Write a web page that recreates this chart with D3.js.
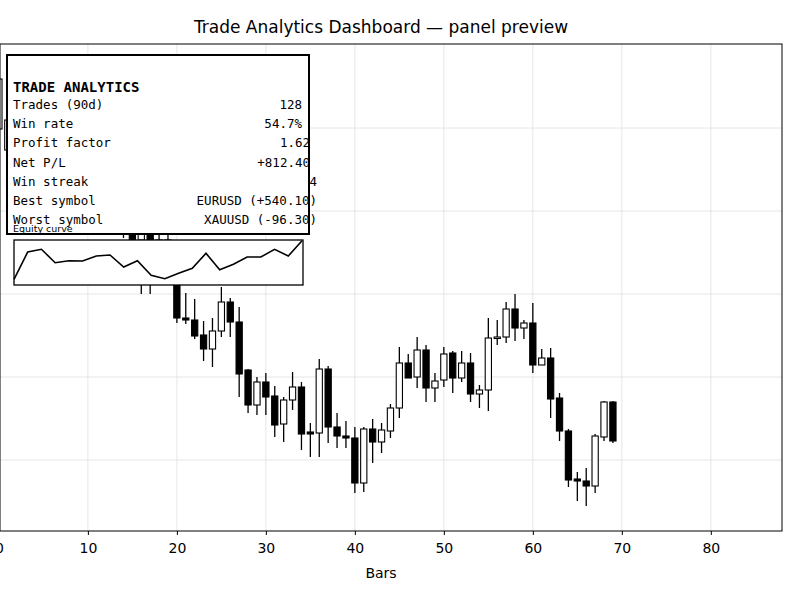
<!DOCTYPE html>
<html><head><meta charset="utf-8">
<script src="https://cdn.jsdelivr.net/npm/d3@7"></script>
<style>body{margin:0;background:#fff}svg{display:block}</style>
</head><body><svg id="c" width="800" height="600"></svg>
<script>
const bars = d3.range(0, 70);
const opens  = [147.1,145,148,146,149.5,151,147.5,149,145,146.5,142.5,144,139.5,141.5,138.5,140,136,137.5,134.5,136,131.5,128.2,128,126.5,125.1,126.9,129.8,127.8,
  123.0,119.5,121.8,120.4,117.6,120.0,121.3,116.8,116.7,123.1,117.3,116.4,116.2,111.7,117.1,115.8,116.9,119.2,123.7,122.3,125.0,121.2,122.0,124.7,122.2,123.7,120.6,121.0,126.2,126.3,129.1,127.2,127.7,123.5,124.2,120.2,116.9,112.1,111.9,111.4,116.3,119.8];
const closes = [152.1,148,146,149.5,151,147.5,149,145,146.5,142.5,144,139.5,141.5,138.5,140,136,137.5,134.5,136,132.5,128.2,128,126.4,125.1,126.9,129.8,127.8,122.6,
  119.5,121.8,120.3,117.5,120.0,121.3,116.6,116.6,123.1,117.3,116.4,116.2,111.7,117.1,115.8,117.0,119.2,123.7,122.2,125.0,121.2,121.9,124.6,122.2,123.7,120.6,121.0,126.2,126.3,129.1,127.2,127.7,123.5,124.2,120.1,116.9,112.0,111.9,111.4,116.4,119.8,115.9];
const highs  = [153,148.8,149,150.5,152,151.5,150,149.5,147.5,147.2,145,144.5,142.5,142.2,141,140.5,138.5,138.2,136.8,136.5,133,130.7,130.1,127.9,128.2,131.3,130.2,129.3,
  123.1,122.3,122.7,121.4,120.3,122.8,121.8,117.7,124.1,123.4,118.7,117.9,117.3,117.3,118.1,117.7,119.6,125.3,124.6,126.3,125.5,122.7,125.3,124.9,124.9,124.7,121.5,128.2,128.0,129.8,130.6,128.0,129.7,125.1,125.2,120.7,117.1,112.8,113.2,116.6,119.9,119.9];
const lows   = [143.5,144.2,145,145.2,148.5,146.8,146.5,144,143.5,141.5,141,138.5,138.8,137,136.2,135,130.6,130.6,133,131.5,127.7,127.6,126.1,123.9,123.3,126.3,126.3,120.3,
  118.7,118.5,118.5,116.3,115.8,119.0,115.0,114.3,114.3,115.7,115.2,115.2,110.7,110.8,113.7,114.7,116.2,118.2,122.2,121.2,119.8,119.8,121.3,120.7,121.8,119.8,119.2,118.9,125.5,125.7,125.9,126.1,122.7,123.5,118.2,115.9,111.3,109.9,109.4,110.7,115.9,115.7];
const xTicks = [0, 10, 20, 30, 40, 50, 60, 70, 80];
const yTicks = [114.0, 122.3, 130.6, 138.9, 147.2];
const equity = [10.7,38,40.7,27.3,29.3,29,34,35,23,29.3,14.7,11.3,16.7,21.7,36.7,20.3,25.7,33,33,40.7,34,49.3];
const statLabels = ["Trades (90d)","Win rate","Profit factor","Net P/L","Win streak","Best symbol","Worst symbol"];
const statValues = ["128","54.7%","1.62","+812.40","4","EURUSD (+540.10)","XAUUSD (-96.30)"];

const svg = d3.select("#c");
const L=-10, R=782, T=44, B=531;
const x = d3.scaleLinear().domain([-1, 88]).range([L, R]);
const y = d3.scaleLinear().domain([106.9, 155.6]).range([B, T]);

svg.append("text").attr("x",381).attr("y",33).attr("text-anchor","middle")
  .attr("font-family","DejaVu Sans").attr("font-size",17).text("Trade Analytics Dashboard — panel preview");

svg.append("defs").append("clipPath").attr("id","pc").append("rect")
  .attr("x",0).attr("y",T).attr("width",R).attr("height",B-T);
const g = svg.append("g").attr("clip-path","url(#pc)");
g.selectAll(".gx").data(xTicks).join("line").attr("x1",d=>x(d)).attr("x2",d=>x(d))
  .attr("y1",T).attr("y2",B).attr("stroke","#e0e0e0").attr("stroke-width",0.8);
g.selectAll(".gy").data(yTicks).join("line").attr("y1",d=>y(d)).attr("y2",d=>y(d))
  .attr("x1",0).attr("x2",R).attr("stroke","#e0e0e0").attr("stroke-width",0.8);

const cw = x(0.35)-x(0);
const cg = g.selectAll(".cd").data(bars).join("g");
cg.append("line").attr("x1",i=>x(i)).attr("x2",i=>x(i)).attr("y1",i=>y(highs[i])).attr("y2",i=>y(lows[i]))
  .attr("stroke","#000").attr("stroke-width",1.3);
cg.append("rect").attr("x",i=>x(i)-cw).attr("width",cw*2)
  .attr("y",i=>y(Math.max(opens[i],closes[i])))
  .attr("height",i=>Math.max(1.5,Math.abs(y(opens[i])-y(closes[i]))))
  .attr("fill",i=>closes[i]>=opens[i]?"#fff":"#000").attr("stroke","#000").attr("stroke-width",1.1);

svg.append("rect").attr("x",0).attr("y",T).attr("width",R).attr("height",B-T)
  .attr("fill","none").attr("stroke","#000").attr("stroke-width",1);
const ax = svg.append("g").attr("transform",`translate(0,${B})`)
  .call(d3.axisBottom(x).tickValues(xTicks).tickSize(4).tickPadding(8).tickFormat(d3.format("d")));
ax.select(".domain").remove();
ax.selectAll("text").attr("font-family","DejaVu Sans").attr("font-size",14).attr("fill","#000");
svg.append("text").attr("x",381).attr("y",578).attr("text-anchor","middle")
  .attr("font-family","DejaVu Sans").attr("font-size",14).text("Bars");

// panel
svg.append("rect").attr("x",7).attr("y",55).attr("width",302).attr("height",179)
  .attr("fill","#fff").attr("stroke","#000").attr("stroke-width",2);
const mono = "DejaVu Sans Mono";
svg.append("text").attr("x",13).attr("y",92).attr("font-family",mono).attr("font-weight","bold")
  .attr("font-size",14).text("TRADE ANALYTICS");
const valEnd = [302,302,310,310,317,317,317];
statLabels.forEach((s,i)=>{
  const yy = 109 + i*19.2;
  svg.append("text").attr("x",13).attr("y",yy).attr("font-family",mono).attr("font-size",12.5).text(s);
  svg.append("text").attr("x",valEnd[i]).attr("y",yy).attr("text-anchor","end")
    .attr("font-family",mono).attr("font-size",12.5).text(statValues[i]);
});
svg.append("text").attr("x",13).attr("y",232).attr("font-family","DejaVu Sans").attr("font-size",9.5).text("Equity curve");
svg.append("rect").attr("x",14).attr("y",240).attr("width",289).attr("height",45)
  .attr("fill","#fff").attr("stroke","#000").attr("stroke-width",1.3);
const ex = d3.scaleLinear().domain([0,equity.length-1]).range([14,302]);
const ey = d3.scaleLinear().domain(d3.extent(equity)).range([279.3,240.7]);
svg.append("path").attr("d",d3.line().x((d,i)=>ex(i)).y(d=>ey(d))(equity))
  .attr("fill","none").attr("stroke","#000").attr("stroke-width",1.6);
</script></body></html>
